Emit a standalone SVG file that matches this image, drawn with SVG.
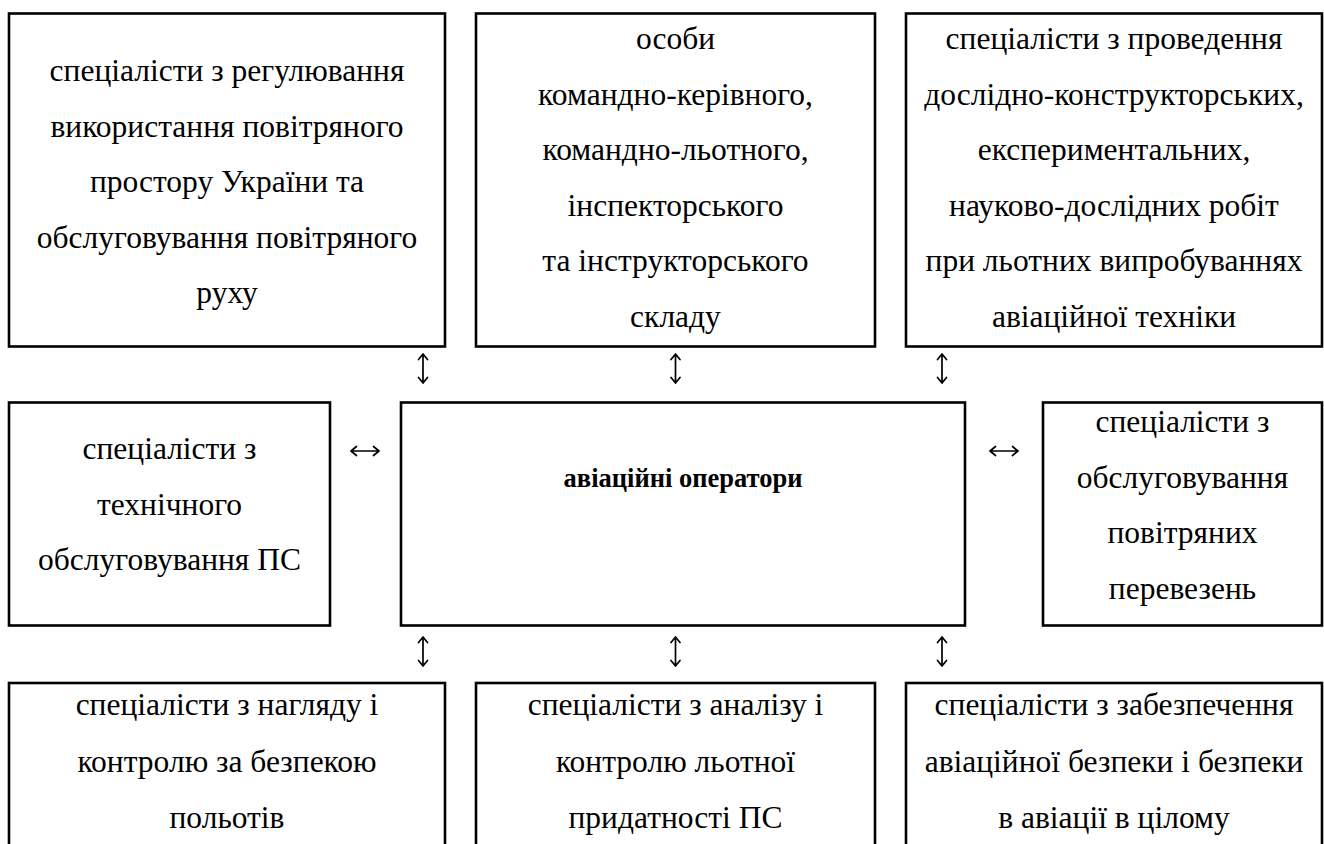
<svg xmlns="http://www.w3.org/2000/svg" width="1324" height="844" viewBox="0 0 1324 844">
<style>
.box{fill:#fff;stroke:#000;stroke-width:2.6}
.t{font-family:"Liberation Serif","Times New Roman",serif;font-size:31.5px;fill:#000;text-anchor:middle}
.b{font-weight:bold;font-size:26.5px}
.c{fill:none;stroke:#000;stroke-width:1.7;stroke-linecap:round;stroke-linejoin:round}
</style>
<rect width="1324" height="844" fill="#fff"/>
<g id="n-tl"><rect class="box" x="9" y="13.5" width="436" height="333"/>
<text class="t"><tspan x="227" y="81">спеціалісти з регулювання</tspan><tspan x="227" y="136.5">використання повітряного</tspan><tspan x="227" y="192">простору України та</tspan><tspan x="227" y="247.5">обслуговування повітряного</tspan><tspan x="227" y="303">руху</tspan></text></g>
<g id="n-tm"><rect class="box" x="476" y="13.5" width="399" height="333"/>
<text class="t"><tspan x="675.5" y="49">особи</tspan><tspan x="675.5" y="104.5">командно-керівного,</tspan><tspan x="675.5" y="160">командно-льотного,</tspan><tspan x="675.5" y="215.5">інспекторського</tspan><tspan x="675.5" y="271">та інструкторського</tspan><tspan x="675.5" y="326.5">складу</tspan></text></g>
<g id="n-tr"><rect class="box" x="906" y="13.5" width="416" height="333"/>
<text class="t"><tspan x="1114" y="49">спеціалісти з проведення</tspan><tspan x="1114" y="104.5">дослідно-конструкторських,</tspan><tspan x="1114" y="160">експериментальних,</tspan><tspan x="1114" y="215.5">науково-дослідних робіт</tspan><tspan x="1114" y="271">при льотних випробуваннях</tspan><tspan x="1114" y="326.5">авіаційної техніки</tspan></text></g>
<g id="n-ml"><rect class="box" x="9" y="402.5" width="321" height="223"/>
<text class="t"><tspan x="169.5" y="459">спеціалісти з</tspan><tspan x="169.5" y="514.5">технічного</tspan><tspan x="169.5" y="570">обслуговування ПС</tspan></text></g>
<g id="n-c"><rect class="box" x="401" y="402.5" width="564" height="223"/>
<text class="t b" x="683" y="487">авіаційні оператори</text></g>
<g id="n-mr"><rect class="box" x="1043" y="402.5" width="279" height="223"/>
<text class="t"><tspan x="1182.5" y="432">спеціалісти з</tspan><tspan x="1182.5" y="487.5">обслуговування</tspan><tspan x="1182.5" y="543">повітряних</tspan><tspan x="1182.5" y="598.5">перевезень</tspan></text></g>
<g id="n-bl"><rect class="box" x="9" y="683" width="436" height="200"/>
<text class="t"><tspan x="227" y="715">спеціалісти з нагляду і</tspan><tspan x="227" y="771.5">контролю за безпекою</tspan><tspan x="227" y="828">польотів</tspan></text></g>
<g id="n-bm"><rect class="box" x="476" y="683" width="399" height="200"/>
<text class="t"><tspan x="675.5" y="715">спеціалісти з аналізу і</tspan><tspan x="675.5" y="771.5">контролю льотної</tspan><tspan x="675.5" y="828">придатності ПС</tspan></text></g>
<g id="n-br"><rect class="box" x="906" y="683" width="416" height="200"/>
<text class="t"><tspan x="1114" y="715">спеціалісти з забезпечення</tspan><tspan x="1114" y="771.5">авіаційної безпеки і безпеки</tspan><tspan x="1114" y="828">в авіації в цілому</tspan></text></g>
<g id="connectors">
<path class="c" d="M423 354V383M418.5 359.5L423 354L427.5 359.5M418.5 377.5L423 383L427.5 377.5"/>
<path class="c" d="M675.5 354V383M671 359.5L675.5 354L680 359.5M671 377.5L675.5 383L680 377.5"/>
<path class="c" d="M942 354V383M937.5 359.5L942 354L946.5 359.5M937.5 377.5L942 383L946.5 377.5"/>
<path class="c" d="M423 637V666M418.5 642.5L423 637L427.5 642.5M418.5 660.5L423 666L427.5 660.5"/>
<path class="c" d="M675.5 637V666M671 642.5L675.5 637L680 642.5M671 660.5L675.5 666L680 660.5"/>
<path class="c" d="M942 637V666M937.5 642.5L942 637L946.5 642.5M937.5 660.5L942 666L946.5 660.5"/>
<path class="c" d="M351 451H379M356.5 446.5L351 451L356.5 455.5M373.5 446.5L379 451L373.5 455.5"/>
<path class="c" d="M990 451H1018M995.5 446.5L990 451L995.5 455.5M1012.5 446.5L1018 451L1012.5 455.5"/>
</g>
</svg>
